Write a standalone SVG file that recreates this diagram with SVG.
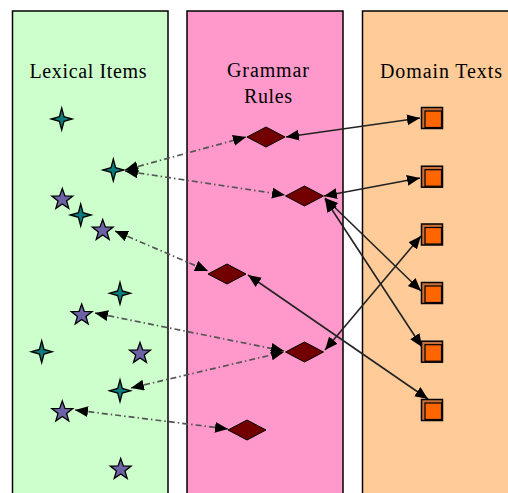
<svg xmlns="http://www.w3.org/2000/svg" width="508" height="493" viewBox="0 0 508 493">
<style>
.panel{stroke:#000;stroke-width:1.5}
.lbl{font-family:"Liberation Serif","Times New Roman",serif;font-size:20px;fill:#000;text-anchor:middle}
.solid{fill:none;stroke:#222;stroke-width:1.6;marker-start:url(#ah);marker-end:url(#ah)}
.dash{fill:none;stroke:#555;stroke-width:1.7;stroke-dasharray:6 3 1.5 3;marker-start:url(#ah);marker-end:url(#ah)}
</style>
<defs>
<marker id="ah" markerUnits="userSpaceOnUse" markerWidth="14" markerHeight="12" refX="13" refY="5.5" orient="auto-start-reverse" viewBox="0 0 14 12">
<path d="M0,0 L13,5.5 L0,11 Z" fill="#000"/>
</marker>
<path id="star4" d="M0,-11 L2.3,-2.3 L10.5,0 L2.3,2.3 L0,11 L-2.3,2.3 L-10.5,0 L-2.3,-2.3 Z" fill="#0d7a7c" stroke="#000" stroke-width="1.3"/>
<path id="star5" d="M0,-11 L2.65,-3.64 L10.46,-3.4 L4.28,1.39 L6.47,8.9 L0,4.5 L-6.47,8.9 L-4.28,1.39 L-10.46,-3.4 L-2.65,-3.64 Z" fill="#6c63a6" stroke="#000" stroke-width="1.3"/>
<path id="dia" d="M-19,0 L0,-10 L19,0 L0,10 Z" fill="#720000" stroke="#000" stroke-width="1"/>
<g id="sq">
<rect x="-10.5" y="-10.5" width="21" height="21" fill="#c8703a" stroke="#000" stroke-width="1.5"/>
<rect x="-7" y="-7" width="16.5" height="16.5" fill="#ff6600" stroke="#000" stroke-width="1.2"/>
</g>
</defs>

<g id="panels">
<rect class="panel" x="12.5" y="11" width="155.5" height="490" fill="#ccffcc"/>
<rect class="panel" x="187" y="11" width="156" height="490" fill="#ff99cc"/>
<rect class="panel" x="362.5" y="11" width="160" height="490" fill="#ffcc99"/>
<text class="lbl" x="88" y="78" textLength="117" lengthAdjust="spacing">Lexical Items</text>
<text class="lbl" x="268" y="77" textLength="82" lengthAdjust="spacing">Grammar</text>
<text class="lbl" x="268" y="103" textLength="48" lengthAdjust="spacing">Rules</text>
<text class="lbl" x="441" y="78" textLength="122" lengthAdjust="spacing">Domain Texts</text>
</g>

<g id="connectors">
<line class="solid" x1="286" y1="137" x2="420" y2="118"/>
<line class="solid" x1="324" y1="196" x2="420" y2="178"/>
<line class="solid" x1="325" y1="198" x2="421" y2="291"/>
<line class="solid" x1="325" y1="199" x2="422" y2="347"/>
<line class="solid" x1="248" y1="275" x2="428" y2="399"/>
<line class="solid" x1="325" y1="350" x2="421" y2="236"/>
<line class="dash" x1="125" y1="170" x2="246" y2="137"/>
<line class="dash" x1="125" y1="171" x2="285" y2="195"/>
<line class="dash" x1="115" y1="231" x2="208" y2="271"/>
<line class="dash" x1="95" y1="313" x2="284" y2="351"/>
<line class="dash" x1="131" y1="388" x2="284" y2="352"/>
<line class="dash" x1="75" y1="410" x2="228" y2="429"/>
</g>

<g id="lex1"><use href="#star4" x="61.7" y="119"/></g>
<g id="lex2"><use href="#star4" x="113.3" y="170"/></g>
<g id="lex3"><use href="#star5" x="62.3" y="199.5"/></g>
<g id="lex4"><use href="#star4" x="80.7" y="215"/></g>
<g id="lex5"><use href="#star5" x="102.7" y="230.5"/></g>
<g id="lex6"><use href="#star4" x="120" y="293.3"/></g>
<g id="lex7"><use href="#star5" x="81.7" y="315"/></g>
<g id="lex8"><use href="#star4" x="41.7" y="351.7"/></g>
<g id="lex9"><use href="#star5" x="140" y="353.5"/></g>
<g id="lex10"><use href="#star4" x="120" y="390.7"/></g>
<g id="lex11"><use href="#star5" x="62.3" y="412"/></g>
<g id="lex12"><use href="#star5" x="120.7" y="469.5"/></g>

<g id="rule1"><use href="#dia" x="266" y="137"/></g>
<g id="rule2"><use href="#dia" x="304.5" y="196"/></g>
<g id="rule3"><use href="#dia" x="227" y="274"/></g>
<g id="rule4"><use href="#dia" x="304.5" y="352"/></g>
<g id="rule5"><use href="#dia" x="247" y="430"/></g>

<g id="text1"><use href="#sq" x="432" y="118"/></g>
<g id="text2"><use href="#sq" x="432" y="176.7"/></g>
<g id="text3"><use href="#sq" x="432" y="234.5"/></g>
<g id="text4"><use href="#sq" x="432" y="293"/></g>
<g id="text5"><use href="#sq" x="432" y="351.7"/></g>
<g id="text6"><use href="#sq" x="432" y="410"/></g>
</svg>
